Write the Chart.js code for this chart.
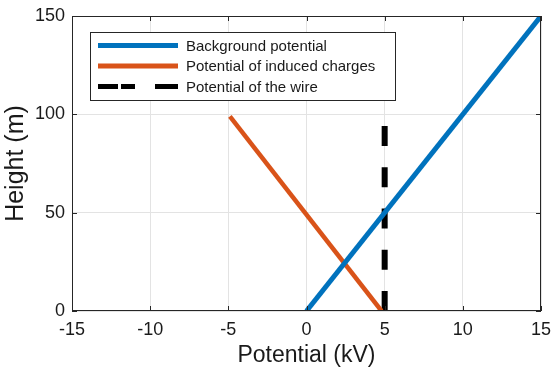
<!DOCTYPE html>
<html lang="en">
<head>
  <meta charset="UTF-8">
  <title>Potential vs height</title>
  <script src="https://cdn.jsdelivr.net/npm/chart.js"></script>
  <style>
    html, body { margin: 0; padding: 0; background: #fff; }
    #wrap { width: 554px; height: 369px; }
  </style>
</head>
<body>
<div id="wrap"><canvas id="chart" width="554" height="369"></canvas></div>
<script>
  // data
  const seriesLabels = ['Background potential', 'Potential of induced charges', 'Potential of the wire'];
  const backgroundPts = [{ x: 0, y: 0 }, { x: 15, y: 150 }];
  const inducedPts = [{ x: -4.9, y: 99 }, { x: 4.8, y: 0 }];
  const wirePts = [{ x: 5, y: 0 }, { x: 5, y: 95 }];
  const xTicks = [-15, -10, -5, 0, 5, 10, 15];
  const yTicks = [0, 50, 100, 150];

  const FONT = '"Liberation Sans", Arial, Helvetica, sans-serif';
  const TXT = '#1a1a1a';

  // box round the axes with inward ticks, MATLAB style
  const boxPlugin = {
    id: 'box',
    afterDatasetsDraw(chart) {
      const { ctx, chartArea: a, scales } = chart;
      ctx.save();
      ctx.strokeStyle = '#262626';
      ctx.lineWidth = 1;
      ctx.strokeRect(a.left + 0.5, a.top + 0.5, a.right - a.left - 1, a.bottom - a.top - 1);
      ctx.beginPath();
      xTicks.forEach(v => {
        const px = Math.round(scales.x.getPixelForValue(v)) + 0.5;
        ctx.moveTo(px, a.bottom); ctx.lineTo(px, a.bottom - 5);
        ctx.moveTo(px, a.top); ctx.lineTo(px, a.top + 5);
      });
      yTicks.forEach(v => {
        const py = Math.round(scales.y.getPixelForValue(v)) + 0.5;
        ctx.moveTo(a.left, py); ctx.lineTo(a.left + 5, py);
        ctx.moveTo(a.right, py); ctx.lineTo(a.right - 5, py);
      });
      ctx.stroke();
      ctx.restore();
    }
  };

  // legend drawn by hand to get the boxed MATLAB look
  const legendPlugin = {
    id: 'mlegend',
    afterDraw(chart) {
      const ctx = chart.ctx;
      const x0 = 90, y0 = 32, w = 305, h = 68;
      ctx.save();
      ctx.fillStyle = '#fff';
      ctx.fillRect(x0, y0, w, h);
      ctx.strokeStyle = '#262626';
      ctx.lineWidth = 1;
      ctx.strokeRect(x0 + 0.5, y0 + 0.5, w, h);
      chart.data.datasets.forEach((ds, i) => {
        const yy = 45.5 + i * 20.5;
        ctx.strokeStyle = ds.borderColor;
        ctx.lineWidth = 5;
        ctx.setLineDash(ds.borderDash && ds.borderDash.length ? [20, 3, 14, 20, 23] : []);
        ctx.beginPath();
        ctx.moveTo(98, yy); ctx.lineTo(178, yy);
        ctx.stroke();
        ctx.setLineDash([]);
        ctx.fillStyle = TXT;
        ctx.font = '15px ' + FONT;
        ctx.textBaseline = 'middle';
        ctx.fillText(ds.label, 186, yy + 1);
      });
      ctx.restore();
    }
  };

  new Chart(document.getElementById('chart'), {
    type: 'scatter',
    data: {
      datasets: [{
        label: seriesLabels[0],
        data: backgroundPts,
        showLine: true,
        borderColor: '#0072BD',
        borderWidth: 5,
        pointRadius: 0
      }, {
        label: seriesLabels[1],
        data: inducedPts,
        showLine: true,
        borderColor: '#D95319',
        borderWidth: 4.5,
        pointRadius: 0
      }, {
        label: seriesLabels[2],
        data: wirePts,
        showLine: true,
        borderColor: '#000000',
        borderWidth: 6,
        borderDash: [20, 21.25],
        pointRadius: 0
      }]
    },
    options: {
      responsive: false,
      animation: false,
      layout: { padding: { left: 0, right: 13, top: 16, bottom: 0 } },
      plugins: { legend: { display: false }, tooltip: { enabled: false } },
      scales: {
        x: {
          type: 'linear',
          min: -15, max: 15,
          afterBuildTicks: s => { s.ticks = xTicks.map(v => ({ value: v })); },
          afterFit: s => { s.height = 58; s.paddingLeft = 0; s.paddingRight = 0; },
          grid: { color: '#e3e3e3', drawTicks: false },
          border: { display: false },
          ticks: { padding: 8, color: TXT, font: { family: FONT, size: 18 } },
          title: { display: true, text: 'Potential (kV)', color: TXT, padding: { top: 0, bottom: 0 }, font: { family: FONT, size: 23 } }
        },
        y: {
          type: 'linear',
          min: 0, max: 150,
          afterBuildTicks: s => { s.ticks = yTicks.map(v => ({ value: v })); },
          afterFit: s => { s.width = 72; s.paddingTop = 0; s.paddingBottom = 0; },
          grid: { color: '#e3e3e3', drawTicks: false },
          border: { display: false },
          ticks: { padding: 7, color: TXT, font: { family: FONT, size: 18 } },
          title: { display: true, text: 'Height (m)', color: TXT, padding: { top: 1.5, bottom: 0 }, font: { family: FONT, size: 25 } }
        }
      }
    },
    plugins: [boxPlugin, legendPlugin]
  });
</script>
</body>
</html>
